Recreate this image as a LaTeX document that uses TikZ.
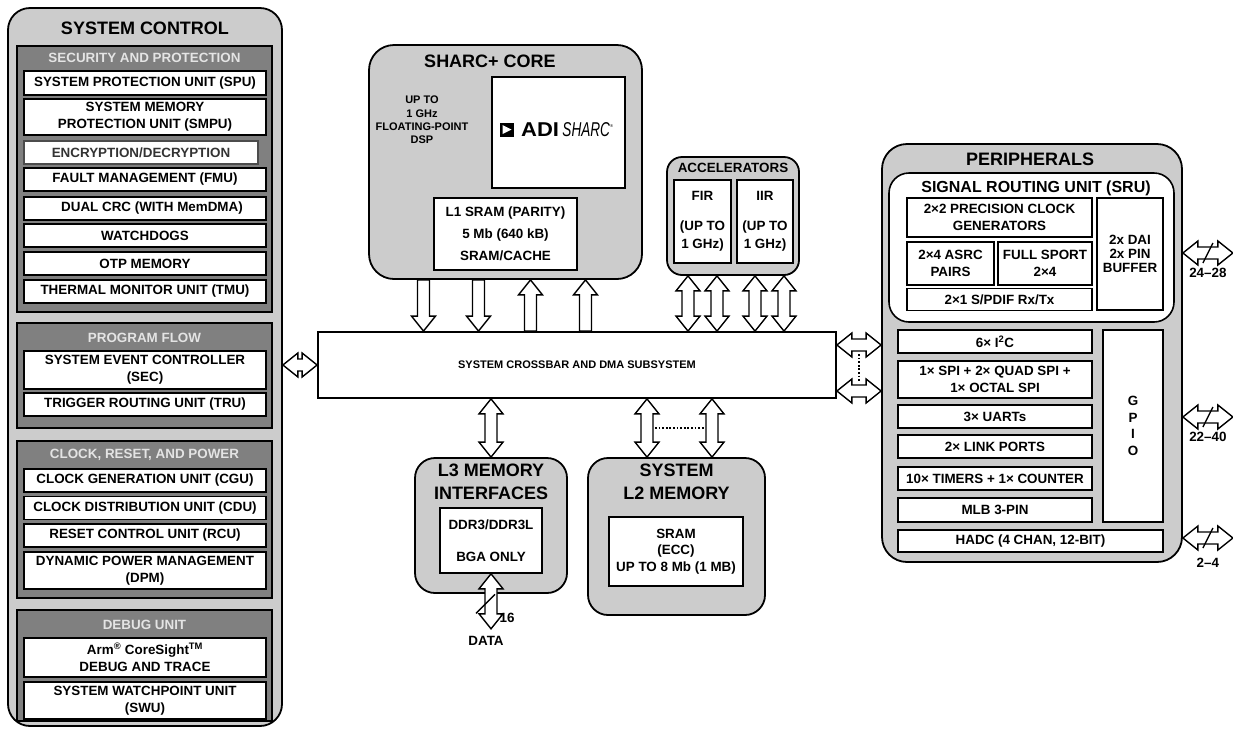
\documentclass[tikz,border=0pt]{standalone}
\usepackage{fontspec}
\setmainfont{Liberation Sans}
\usetikzlibrary{calc, positioning}
\definecolor{box_gray}{RGB}{204,204,204}
\definecolor{group_gray}{RGB}{128,128,128}
\definecolor{head_gray}{RGB}{228,228,228}
\newcommand{\unitfont}{\fontsize{13.4}{17}\selectfont\bfseries}
\newcommand{\titlefont}{\fontsize{18}{23}\selectfont\bfseries}
% hollow block arrow, head at #2
\newcommand{\busto}[2]{\draw[bus] ($(#1)!6pt!90:(#2)$) -- ($(#2)!15pt!(#1)!6pt!-90:(#1)$) -- ($(#2)!15pt!(#1)!12pt!-90:(#1)$) -- (#2) -- ($(#2)!15pt!(#1)!12pt!90:(#1)$) -- ($(#2)!15pt!(#1)!6pt!90:(#1)$) -- ($(#1)!6pt!-90:(#2)$) -- cycle;}
% hollow block arrow, heads at both ends
\newcommand{\busboth}[2]{\draw[bus] (#1) -- ($(#1)!15pt!(#2)!12pt!90:(#2)$) -- ($(#1)!15pt!(#2)!6pt!90:(#2)$) -- ($(#2)!15pt!(#1)!6pt!-90:(#1)$) -- ($(#2)!15pt!(#1)!12pt!-90:(#1)$) -- (#2) -- ($(#2)!15pt!(#1)!12pt!90:(#1)$) -- ($(#2)!15pt!(#1)!6pt!90:(#1)$) -- ($(#1)!15pt!(#2)!6pt!-90:(#2)$) -- ($(#1)!15pt!(#2)!12pt!-90:(#2)$) -- cycle;}

\begin{document}
\begin{tikzpicture}[x=1pt, y=-1pt,
    every node/.style={inner sep=0pt, align=center, font=\unitfont},
    outer/.style={draw, line width=1.8pt, fill=box_gray, rounded corners=22pt},
    group/.style={draw, line width=1.6pt, fill=group_gray},
    unit/.style={draw, line width=1.6pt, fill=white},
    head/.style={text=head_gray},
    title/.style={font=\titlefont},
    bus/.style={draw, fill=white, line width=1.4pt, line join=miter},
    dots/.style={line width=1.8pt, dash pattern=on 1.8pt off 1.8pt}]
  \useasboundingbox (0,0) rectangle (1233,729);

  % system control
  \node[outer, minimum width=274pt, minimum height=718pt] (sysctl) at (145,367) {};
  \node[title] (sysname) at (145,28) {SYSTEM CONTROL};
  \node[group, minimum width=255pt, minimum height=266pt] (secgrp) at (144.5,179) {};
  \node[head] (sechead) at (144.5,58) {SECURITY AND PROTECTION};
  \node[unit, minimum width=242pt, minimum height=24pt] (spu) at (145,83) {SYSTEM PROTECTION UNIT (SPU)};
  \node[unit, minimum width=242pt, minimum height=36pt] (smpu) at (145,117) {SYSTEM MEMORY\\PROTECTION UNIT (SMPU)};
  \node[unit, draw=black!70, line width=1.2pt, text=black!80, minimum width=234pt, minimum height=23pt] (crypt) at (141,152.5) {ENCRYPTION/DECRYPTION};
  \node[unit, minimum width=242pt, minimum height=23pt] (fmu) at (145,179.5) {FAULT MANAGEMENT (FMU)};
  \node[unit, minimum width=242pt, minimum height=23pt] (crc) at (145,208.5) {\hspace*{14pt}DUAL CRC (WITH MemDMA)};
  \node[unit, minimum width=242pt, minimum height=23pt] (wdog) at (145,235.5) {WATCHDOGS};
  \node[unit, minimum width=242pt, minimum height=23pt] (otp) at (145,263.5) {OTP MEMORY};
  \node[unit, minimum width=242pt, minimum height=23pt] (tmu) at (145,291.5) {THERMAL MONITOR UNIT (TMU)};

  \node[group, minimum width=255pt, minimum height=105pt] (flowgrp) at (144.5,375.5) {};
  \node[head] (flowhead) at (144.5,338) {PROGRAM FLOW};
  \node[unit, minimum width=242pt, minimum height=38pt] (sec) at (145,370) {SYSTEM EVENT CONTROLLER\\(SEC)};
  \node[unit, minimum width=242pt, minimum height=23pt] (tru) at (145,404.5) {TRIGGER ROUTING UNIT (TRU)};

  \node[group, minimum width=255pt, minimum height=157pt] (clkgrp) at (144.5,519.5) {};
  \node[head] (clkhead) at (144.5,455) {CLOCK, RESET, AND POWER};
  \node[unit, minimum width=242pt, minimum height=23pt] (cgu) at (145,480.5) {CLOCK GENERATION UNIT (CGU)};
  \node[unit, minimum width=242pt, minimum height=23pt] (cdu) at (145,508) {CLOCK DISTRIBUTION UNIT (CDU)};
  \node[unit, minimum width=242pt, minimum height=23pt] (rcu) at (145,535.5) {RESET CONTROL UNIT (RCU)};
  \node[unit, minimum width=242pt, minimum height=37pt] (dpm) at (145,570.5) {DYNAMIC POWER MANAGEMENT\\(DPM)};

  \node[group, minimum width=255pt, minimum height=111pt] (dbggrp) at (144.5,665.5) {};
  \node[head] (dbghead) at (144.5,625) {DEBUG UNIT};
  \node[unit, minimum width=242pt, minimum height=39pt] (arm) at (145,657.5) {Arm\textsuperscript{®} CoreSight\textsuperscript{TM}\\DEBUG AND TRACE};
  \node[unit, minimum width=242pt, minimum height=37pt] (swu) at (145,700.5) {SYSTEM WATCHPOINT UNIT\\(SWU)};

  % core and accelerators
  \node[outer, rounded corners=25pt, minimum width=273pt, minimum height=234pt] (core) at (505.5,162) {};
  \node[title] (corename) at (490,61) {SHARC+ CORE};
  \node[font=\fontsize{11}{13.3}\selectfont\bfseries] (dsp) at (422,120) {UP TO\\1 GHz\\FLOATING-POINT\\DSP};
  \node[unit, minimum width=133pt, minimum height=111pt] (logo) at (558.5,132.5) {};
  \fill (500,122.5) rectangle (514,136.5);
  \fill[white] (502.5,125) -- (511.5,129.5) -- (502.5,134) -- cycle;
  \node[anchor=west] (adi) at (521,129.5) {\fontsize{20}{20}\selectfont\bfseries\scalebox{1.1}[1]{ADI}\,\mdseries\itshape\scalebox{0.68}[1]{SHARC}\raisebox{9pt}{\fontsize{4}{4}\selectfont ®}};
  \node[unit, font=\fontsize{13.4}{22}\selectfont\bfseries, minimum width=143pt, minimum height=72pt] (l1) at (505.5,234) {L1 SRAM (PARITY)\\5 Mb (640 kB)\\SRAM/CACHE};

  \node[outer, rounded corners=15pt, minimum width=132pt, minimum height=118pt] (acc) at (733,216) {};
  \node (accname) at (733,168) {ACCELERATORS};
  \node[unit, font=\fontsize{13.4}{18}\selectfont\bfseries, minimum width=57pt, minimum height=83pt] (fir) at (702.5,221.5) {FIR\\[12pt](UP TO\\1 GHz)};
  \node[unit, font=\fontsize{13.4}{18}\selectfont\bfseries, minimum width=56pt, minimum height=83pt] (iir) at (765,221.5) {IIR\\[12pt](UP TO\\1 GHz)};

  % crossbar
  \node[unit, line width=1.8pt, font=\fontsize{11}{13}\selectfont\bfseries, minimum width=518pt, minimum height=66pt] (xbar) at (577,365) {SYSTEM CROSSBAR AND DMA SUBSYSTEM};

  % memories
  \node[outer, rounded corners=20pt, minimum width=152pt, minimum height=135pt] (l3) at (491,525.5) {};
  \node[title] (l3name) at (491,481.5) {L3 MEMORY\\INTERFACES};
  \node[unit, font=\fontsize{13.4}{16}\selectfont\bfseries, minimum width=102pt, minimum height=65pt] (ddr) at (491,540.5) {DDR3/DDR3L\\[16pt]BGA ONLY};
  \node[outer, rounded corners=20pt, minimum width=177pt, minimum height=157pt] (l2) at (676.5,536.5) {};
  \node[title] (l2name) at (676.5,482) {SYSTEM\\L2 MEMORY};
  \node[unit, font=\fontsize{13.4}{16.5}\selectfont\bfseries, minimum width=134pt, minimum height=69pt] (sram) at (676,551.5) {SRAM\\(ECC)\\UP TO 8 Mb (1 MB)};

  % peripherals
  \node[outer, rounded corners=25pt, minimum width=300pt, minimum height=418pt] (periph) at (1032,353) {};
  \node[title] (periphname) at (1030,159) {PERIPHERALS};
  \node[unit, rounded corners=20pt, minimum width=285pt, minimum height=149pt] (sru) at (1031.5,247.5) {};
  \node[font=\fontsize{16}{18}\selectfont\bfseries] (sruname) at (1036,188) {SIGNAL ROUTING UNIT (SRU)};
  \node[unit, minimum width=185pt, minimum height=39pt] (pcg) at (999.5,217.5) {2×2 PRECISION CLOCK\\GENERATORS};
  \node[unit, minimum width=87pt, minimum height=43pt] (asrc) at (950.5,263.5) {2×4 ASRC\\PAIRS};
  \node[unit, minimum width=94pt, minimum height=43pt] (sport) at (1045,263.5) {FULL SPORT\\2×4};
  \node[unit, minimum width=185pt, minimum height=22pt] (spdif) at (999.5,299.5) {2×1 S/PDIF Rx/Tx};
  \node[unit, font=\fontsize{13.4}{14}\selectfont\bfseries, minimum width=66pt, minimum height=112pt] (dai) at (1130,254) {2x DAI\\2x PIN\\BUFFER};
  \node[unit, minimum width=194pt, minimum height=23pt] (i2c) at (995,341.5) {6× I\textsuperscript{2}C};
  \node[unit, minimum width=194pt, minimum height=37pt] (spi) at (995,379.5) {1× SPI + 2× QUAD SPI +\\1× OCTAL SPI};
  \node[unit, minimum width=194pt, minimum height=23pt] (uart) at (995,416.5) {3× UARTs};
  \node[unit, minimum width=194pt, minimum height=23pt] (link) at (995,446.5) {2× LINK PORTS};
  \node[unit, minimum width=194pt, minimum height=23pt] (tmr) at (995,478.5) {10× TIMERS + 1× COUNTER};
  \node[unit, minimum width=194pt, minimum height=24pt] (mlb) at (995,510) {MLB 3-PIN};
  \node[unit, font=\fontsize{13.4}{16.5}\selectfont\bfseries, minimum width=60pt, minimum height=192pt] (gpio) at (1133,426) {G\\P\\I\\O};
  \node[unit, minimum width=265pt, minimum height=22pt] (hadc) at (1030.5,541) {HADC (4 CHAN, 12-BIT)};

  % buses to the crossbar
  \foreach \dx [count=\i] in {-82,-27} {
    \coordinate (cd\i) at ([xshift=\dx pt]core.south);
    \coordinate (xd\i) at (cd\i |- xbar.north);
    \busto{cd\i}{xd\i}
  }
  \foreach \dx [count=\i] in {25,80} {
    \coordinate (cu\i) at ([xshift=\dx pt]core.south);
    \coordinate (xu\i) at (cu\i |- xbar.north);
    \busto{xu\i}{cu\i}
  }
  \foreach \dx [count=\i] in {-45,-16,22,51} {
    \coordinate (ac\i) at ([xshift=\dx pt]acc.south);
    \coordinate (xa\i) at (ac\i |- xbar.north);
    \busboth{ac\i}{xa\i}
  }
  \coordinate (sl) at (xbar.west -| sysctl.east);
  \busboth{sl}{xbar.west}
  \coordinate (x3) at (l3.north |- xbar.south);
  \busboth{x3}{l3.north}
  \foreach \dx [count=\i] in {-29.5,35.5} {
    \coordinate (lm\i) at ([xshift=\dx pt]l2.north);
    \coordinate (xl\i) at (lm\i |- xbar.south);
    \busboth{xl\i}{lm\i}
    \coordinate (lc\i) at ($(lm\i)!0.5!(xl\i)$);
  }
  \draw[dots] ([xshift=8pt]lc1) -- ([xshift=-8pt]lc2);
  \foreach \dy [count=\i] in {20,-26} {
    \coordinate (pr\i) at ([yshift=\dy pt]xbar.east);
    \coordinate (pp\i) at (pr\i -| periph.west);
    \busboth{pr\i}{pp\i}
    \coordinate (pm\i) at ($(pr\i)!0.5!(pp\i)$);
  }
  \draw[dots] ([yshift=-9pt]pm1) -- ([yshift=9pt]pm2);

  % pins
  \foreach \dy/\lbl/\ly [count=\i] in {100/24--28/20, -64/22--40/20, -185/2--4/25} {
    \coordinate (po\i) at ([yshift=\dy pt]periph.east);
    \coordinate (pe\i) at ([xshift=50pt]po\i);
    \busboth{po\i}{pe\i}
    \coordinate (pc\i) at ($(po\i)!0.5!(pe\i)$);
    \draw[line width=1.4pt] ([xshift=-5pt,yshift=-10pt]pc\i) -- ([xshift=5pt,yshift=10pt]pc\i);
    \node (pl\i) at ([yshift=-\ly pt]pc\i) {\lbl};
  }
  \coordinate (dd) at ([yshift=-55pt]ddr.south);
  \busboth{ddr.south}{dd}
  \coordinate (dm) at ($(ddr.south)!0.5!(dd)$);
  \draw[line width=1.4pt] ([xshift=-15pt,yshift=-12pt]dm) -- ([xshift=4pt,yshift=7pt]dm);
  \node (width) at ([xshift=16pt,yshift=11pt]dd) {16};
  \node (data) at ([xshift=-5pt,yshift=-12pt]dd) {DATA};
\end{tikzpicture}
\end{document}
